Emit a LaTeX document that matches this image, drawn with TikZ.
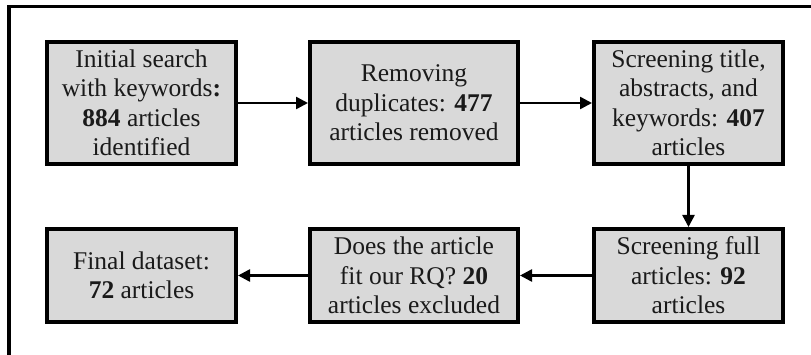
\documentclass[tikz,border=0pt]{standalone}
\usepackage{fontspec}
\setmainfont{Liberation Serif}
\usetikzlibrary{arrows.meta}
\definecolor{boxgray}{HTML}{D9D9D9}
\definecolor{txt}{HTML}{1A1A1A}
\tikzset{
  stepbox/.style={draw=black, line width=4pt, fill=boxgray, rectangle,
    align=center, inner sep=0pt, text=txt,
    font=\fontsize{25.5}{29.5}\selectfont},
  rowone/.style={minimum height=122pt},
  rowtwo/.style={minimum height=93pt},
  narrow/.style={minimum width=189pt},
  wide/.style={minimum width=208pt},
  flow/.style={line width=2.5pt, -{Triangle[length=12pt,width=12pt]}},
  frame/.style={line width=3.5pt}
}
\begin{document}
\begin{tikzpicture}[x=1pt, y=-1pt]
\useasboundingbox (0,0) rectangle (811,355);
\coordinate (fa) at (9,360);
\coordinate (fb) at (9,6.5);
\coordinate (fc) at (816,6.5);
\draw[frame] (fa) -- (fb) -- (fc);
\node[stepbox, rowone, narrow] (b1) at (141.5,103) {Initial search\\with keywords\textbf{:}\\\textbf{884} articles\\identified};
\node[stepbox, rowone, wide] (b2) at (414,103) {Removing\\duplicates: \textbf{477}\\articles removed};
\node[stepbox, rowone, narrow] (b3) at (688.5,103) {Screening title,\\abstracts, and\\keywords: \textbf{407}\\articles};
\node[stepbox, rowtwo, narrow] (b4) at (688.5,275.5) {Screening full\\articles: \textbf{92}\\articles};
\node[stepbox, rowtwo, wide] (b5) at (414,275.5) {Does the article\\fit our RQ? \textbf{20}\\articles excluded};
\node[stepbox, rowtwo, narrow] (b6) at (141.5,275.5) {Final dataset:\\\textbf{72} articles};
\draw[flow] (b1) -- (b2);
\draw[flow] (b2) -- (b3);
\draw[flow] (b3) -- (b4);
\draw[flow] (b4) -- (b5);
\draw[flow] (b5) -- (b6);
\end{tikzpicture}
\end{document}
